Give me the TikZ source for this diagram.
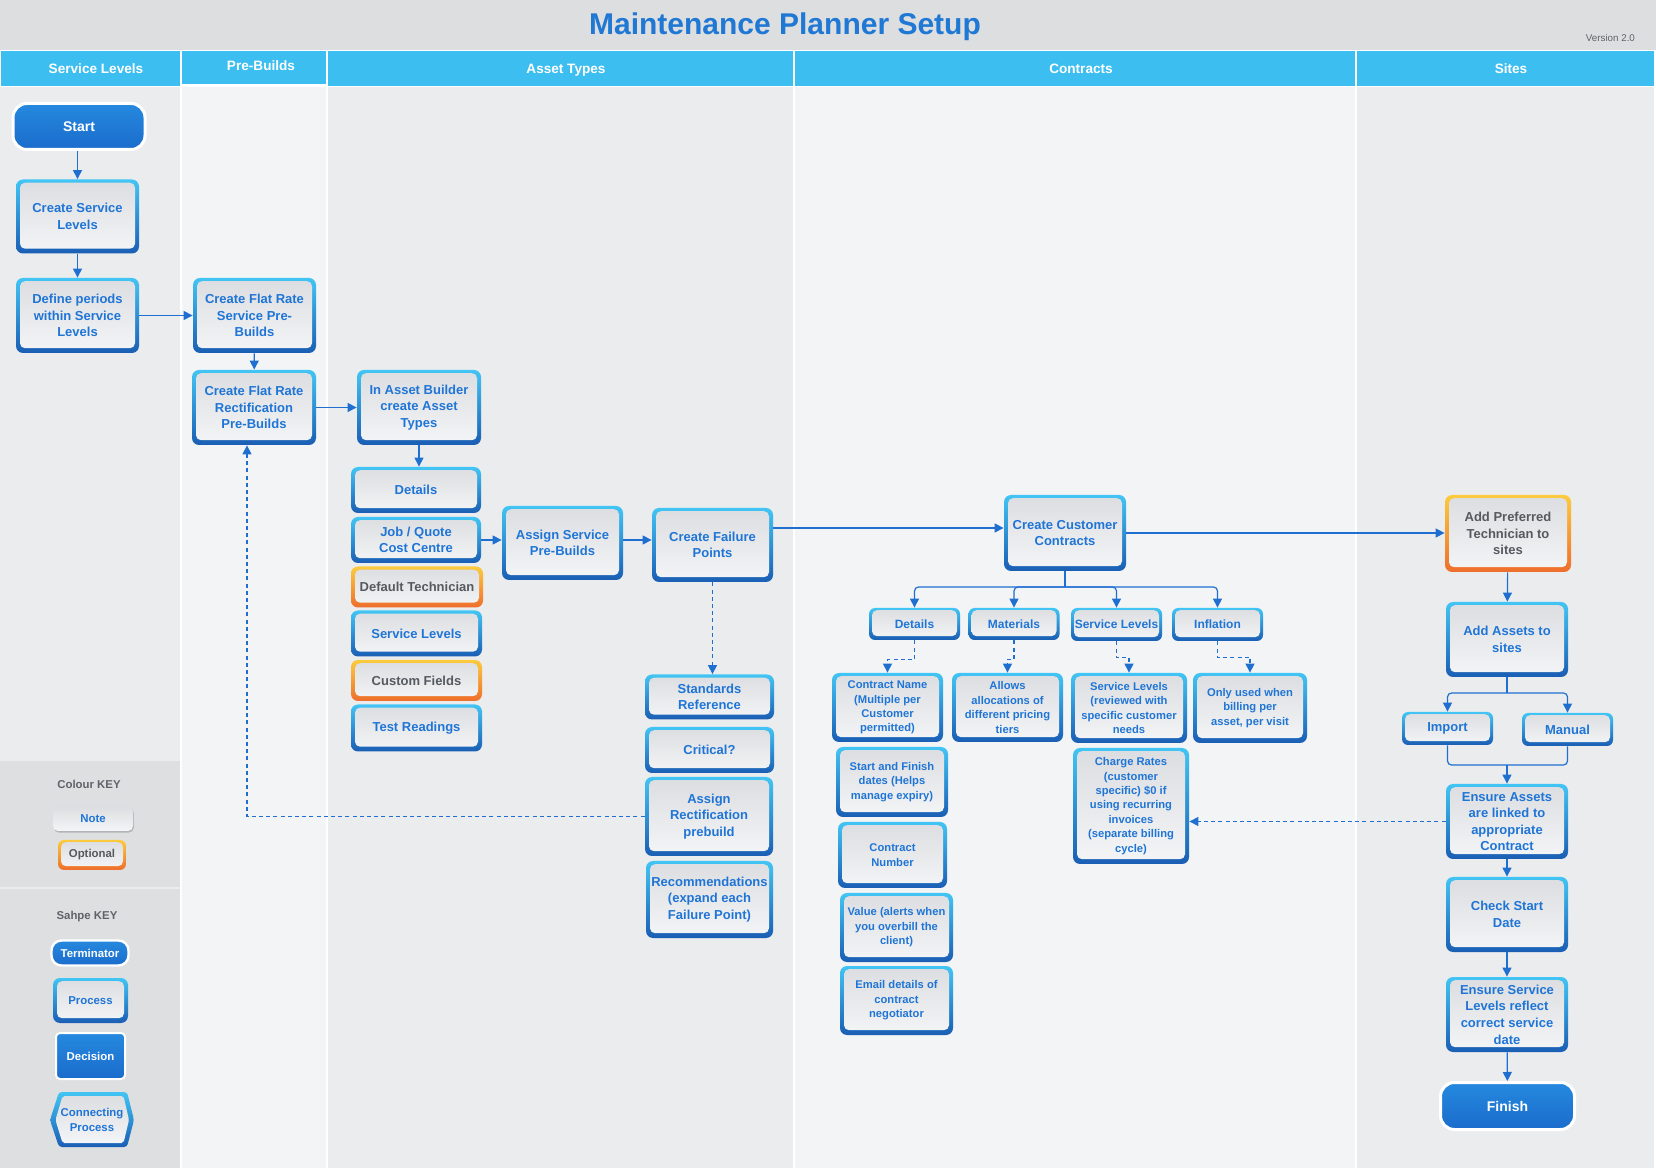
\documentclass[tikz,border=0pt]{standalone}
\usepackage{fontspec}
\setmainfont{Liberation Sans}
\usetikzlibrary{arrows.meta,shadows,calc}
\definecolor{titlegray}{HTML}{DDDEE0}
\definecolor{hdr}{HTML}{3CBEF0}
\definecolor{laneA}{HTML}{EBECEE}
\definecolor{laneB}{HTML}{F3F4F6}
\definecolor{keyg}{HTML}{DEDFE1}
\definecolor{bcy}{HTML}{42C5F4}
\definecolor{bdk}{HTML}{1A5EB4}
\definecolor{gin1}{HTML}{DCDDE0}
\definecolor{gin2}{HTML}{F4F5F7}
\definecolor{tblue}{HTML}{1F75D6}
\definecolor{lc}{HTML}{1F6FD1}
\definecolor{oyl}{HTML}{FCCB3E}
\definecolor{oor}{HTML}{EE6E2C}
\definecolor{tgry}{HTML}{555A60}
\definecolor{tm1}{HTML}{2589DE}
\definecolor{tm2}{HTML}{1B6CCC}
\definecolor{ttl}{HTML}{1F78D4}
\definecolor{kgray}{HTML}{5F6368}
\tikzset{
  sz/.style 2 args={minimum width=#1*0.5pt, minimum height=#2*0.5pt},
  fr/.style={path picture={\shade[top color=gin1,bottom color=gin2,rounded corners=2.5pt]
      ([xshift=#1,yshift=#1+0.4pt]path picture bounding box.south west) rectangle
      ([xshift=-#1,yshift=-#1+0.4pt]path picture bounding box.north east);}},
  bx/.style={rectangle, rounded corners=3.5pt, top color=bcy, bottom color=bdk, inner sep=0pt,
    align=center, text=tblue, font=\bfseries\fontsize{6.5}{8.3}\selectfont, fr=2pt},
  bxs/.style={bx, rounded corners=3pt, fr=1.5pt, font=\bfseries\fontsize{6}{7.5}\selectfont},
  nt/.style={bx, font=\bfseries\fontsize{5.6}{7.2}\selectfont},
  opt/.style={top color=oyl, bottom color=oor, text=tgry},
  term/.style={rectangle, rounded corners=7pt, top color=tm1, bottom color=tm2, draw=white,
    line width=1.5pt, text=white, inner sep=0pt, font=\bfseries\fontsize{7}{8}\selectfont},
  hdrbar/.style={rectangle, fill=hdr, inner sep=0pt},
  hdrtxt/.style={text=white, inner sep=0pt, text height=5pt, text depth=1.4pt, font=\bfseries\fontsize{6.8}{8}\selectfont},
  keyfont/.style={font=\bfseries\fontsize{5.7}{7.5}\selectfont},
  cn/.style={draw=lc, line width=0.6pt},
  arr/.style={cn, -{Triangle[length=4.5pt,width=4.5pt]}},
  darr/.style={arr, dash pattern=on 2pt off 1.6pt},
}
\begin{document}
\begin{tikzpicture}[x=0.5pt,y=-0.5pt]
\useasboundingbox (0,0) rectangle (1656,1170);
% background and lanes
\fill[white] (0,0) rectangle (1656,1170);
\fill[titlegray] (0,0) rectangle (1656,50);
\fill[laneA] (0,87) rectangle (180,1168);
\fill[laneB] (182,87) rectangle (326,1168);
\fill[laneA] (328,87) rectangle (793,1168);
\fill[laneB] (795,87) rectangle (1355,1168);
\fill[laneA] (1357,87) rectangle (1654,1168);
\fill[keyg] (0,761) rectangle (180,887);
\fill[keyg] (0,889) rectangle (180,1168);

\node[text=ttl, font=\bfseries\fontsize{15}{18}\selectfont] (title) at (785,27) {Maintenance Planner Setup};
\node[anchor=east, text=kgray, font=\fontsize{4.9}{6}\selectfont] (ver) at (1642,38) {Version 2.0};

\node[hdrbar, sz={179}{35}] (h1) at (90.5,68.5) {};
\node[hdrbar, sz={144}{33}] (h2) at (254,67.5) {};
\node[hdrbar, sz={465}{35}] (h3) at (560.5,68.5) {};
\node[hdrbar, sz={560}{35}] (h4) at (1075,68.5) {};
\node[hdrbar, sz={297}{35}] (h5) at (1505.5,68.5) {};
\node[hdrtxt] (t1) at (96,69.5) {Service Levels};
\node[hdrtxt] (t2) at (261,67) {Pre-Builds};
\node[hdrtxt] (t3) at (566,69.5) {Asset Types};
\node[hdrtxt] (t4) at (1081,69.5) {Contracts};
\node[hdrtxt] (t5) at (1511,70) {Sites};

% lane 1
\node[term, sz={132}{46}] (start) at (79,126.5) {Start};
\node[bx, sz={123}{74}] (csl) at (77.5,216.5) {Create Service\\Levels};
\node[bx, sz={123}{75}] (dp) at (77.5,315.5) {Define periods\\within Service\\Levels};
% lane 2
\node[bx, sz={123}{75}] (frs) at (254.5,315.5) {Create Flat Rate\\Service Pre-\\Builds};
\node[bx, sz={124}{75}] (frr) at (254,407.5) {Create Flat Rate\\Rectification\\Pre-Builds};
% lane 3
\node[bx, sz={124}{75}] (iab) at (419,407.5) {In Asset Builder\\create Asset\\Types};
\node[bx, sz={130}{46}] (det) at (416,490) {Details};
\node[bx, sz={130}{46}] (jq) at (416,540) {Job / Quote\\Cost Centre};
\node[bx, opt, sz={132}{41}] (dt) at (417,587) {Default Technician};
\node[bx, sz={131}{46}] (sl) at (416.5,633.5) {Service Levels};
\node[bx, opt, sz={131}{41}] (cf) at (416.5,680.5) {Custom Fields};
\node[bx, sz={131}{47}] (tr) at (416.5,728) {Test Readings};
\node[bx, sz={121}{74}] (asp) at (562.5,543) {Assign Service\\Pre-Builds};
\node[bx, sz={121}{74}] (cfp) at (712.5,545) {Create Failure\\Points};
\node[bx, sz={129}{45}] (std) at (709.5,697) {Standards\\Reference};
\node[bx, sz={129}{46}] (crit) at (709.5,750) {Critical?};
\node[bx, sz={128}{79}] (arp) at (709,816.5) {Assign\\Rectification\\prebuild};
\node[bx, sz={127}{77}] (rec) at (709.5,899.5) {Recommendations\\(expand each\\Failure Point)};
% lane 4
\node[bx, sz={122}{76}] (ccc) at (1065,533) {Create Customer\\Contracts};
\node[bxs, sz={91}{32}] (cdet) at (914.5,624) {Details};
\node[bxs, sz={91}{32}] (cmat) at (1014,624) {Materials};
\node[bxs, sz={91}{33}] (csl2) at (1116.5,624.5) {Service Levels};
\node[bxs, sz={91}{33}] (cinf) at (1217.5,624.5) {Inflation};
\node[nt, sz={111}{69}] (n1) at (887.5,707.5) {Contract Name\\(Multiple per\\Customer\\permitted)};
\node[nt, sz={111}{69}] (n2) at (1007.5,707.5) {Allows\\allocations of\\different pricing\\tiers};
\node[nt, sz={116}{70}] (n3) at (1129,708) {Service Levels\\(reviewed with\\specific customer\\needs};
\node[nt, sz={114}{70}] (n4) at (1250,708) {Only used when\\billing per\\asset, per visit};
\node[nt, sz={116}{116}] (n5) at (1131,806) {Charge Rates\\(customer\\specific) \$0 if\\using recurring\\invoices\\(separate billing\\cycle)};
\node[nt, sz={112}{70}] (n6) at (892,782) {Start and Finish\\dates (Helps\\manage expiry)};
\node[nt, sz={109}{66}] (n7) at (892.5,855) {Contract\\Number};
\node[nt, sz={113}{69}] (n8) at (896.5,927.5) {Value (alerts when\\you overbill the\\client)};
\node[nt, sz={113}{69}] (n9) at (896.5,1000.5) {Email details of\\contract\\negotiator};
% lane 5
\node[bx, opt, sz={126}{77}] (apt) at (1508,533.5) {Add Preferred\\Technician to\\sites};
\node[bx, sz={122}{75}] (aas) at (1507,639.5) {Add Assets to\\sites};
\node[bxs, sz={91}{33}, font=\bfseries\fontsize{6.5}{8}\selectfont] (imp) at (1447.5,728.5) {Import};
\node[bxs, sz={91}{33}, font=\bfseries\fontsize{6.5}{8}\selectfont] (man) at (1567.5,729.5) {Manual};
\node[bx, sz={122}{75}] (ea) at (1507,821.5) {Ensure Assets\\are linked to\\appropriate\\Contract};
\node[bx, sz={122}{75}] (csd) at (1507,914.5) {Check Start\\Date};
\node[bx, sz={122}{75}] (esl) at (1507,1014.5) {Ensure Service\\Levels reflect\\correct service\\date};
\node[term, sz={134}{47}] (fin) at (1507.5,1106) {Finish};

% key
\node[keyfont, text=kgray] (ck) at (89,784) {Colour KEY};
\node[rectangle, rounded corners=2.5pt, top color=gin1, bottom color=gin2, keyfont, text=tblue, sz={80}{25},
  drop shadow={shadow xshift=0.4pt, shadow yshift=-0.8pt, opacity=0.35, fill=black!60}] (knote) at (93,818.5) {Note};
\node[bxs, opt, keyfont, sz={68}{30}] (kopt) at (92,855) {Optional};
\node[keyfont, text=kgray] (sk) at (87,917) {Sahpe KEY};
\node[term, line width=1.2pt, rounded corners=5pt, keyfont, sz={77}{25}] (kterm) at (90,953) {Terminator};
\node[bx, keyfont, sz={75}{45}] (kproc) at (90.5,1000.5) {Process};
\node[rectangle, rounded corners=2pt, top color=tm1, bottom color=tm2, draw=white, line width=1pt,
  text=white, keyfont, sz={69}{46}] (kdec) at (90.5,1056) {Decision};
\shade[top color=bcy, bottom color=bdk, rounded corners=1.5pt]
  (50,1120) -- (59,1092) -- (127,1092) -- (134,1120) -- (127,1147) -- (59,1147) -- cycle;
\shade[top color=gin1, bottom color=gin2, rounded corners=1pt]
  (55.5,1120) -- (62.5,1096) -- (123.5,1096) -- (129,1120) -- (123.5,1143) -- (62.5,1143) -- cycle;
\node[keyfont, text=tblue, align=center] (kconn) at (92,1119.5) {Connecting\\Process};

% connectors
\draw[arr] (csl.north |- start.south) -- (csl.north);
\draw[arr] (csl) -- (dp);
\draw[arr] (dp.east) -- (frs.west);
\draw[arr] (frs) -- (frr);
\draw[arr] (frr.east) -- (iab.west);
\draw[arr] (iab.south) -- (iab.south |- det.north);
\draw[arr] (jq.east) -- (jq.east -| asp.west);
\draw[arr] (asp.east |- jq.east) -- (cfp.west |- jq.east);
\coordinate (ccin) at ($(ccc.west)+(0,-5)$);
\draw[arr] (cfp.east |- ccin) -- (ccin);
\draw[arr] (ccc.east) -- (ccc.east -| apt.west);
\draw[darr] (cfp.south) -- (cfp.south |- std.north);
\draw[darr] (arp.west) -| ([xshift=-3.5pt]frr.south);

\coordinate (cj) at (1065,587);
\draw[cn] (ccc.south) -- (cj);
\draw[arr, rounded corners=2pt] (cj) -| (cdet.north);
\draw[arr, rounded corners=2pt] (cj) -| (cmat.north);
\draw[arr, rounded corners=2pt] (cj) -| (csl2.north);
\draw[arr, rounded corners=2pt] (cj) -| (cinf.north);
\draw[darr] (cdet.south) -- ++(0,19) -| (n1.north);
\draw[darr] (cmat.south) -- ++(0,19) -| (n2.north);
\draw[darr] (csl2.south) -- ++(0,16) -| (n3.north);
\draw[darr] (cinf.south) -- ++(0,16) -| (n4.north);

\draw[arr] (apt) -- (aas);
\coordinate (sj) at (1507,693);
\draw[cn] (aas.south) -- (sj);
\draw[arr, rounded corners=2pt] (sj) -| (imp.north);
\draw[arr, rounded corners=2pt] (sj) -| (man.north);
\coordinate (mj) at (1507,765);
\draw[cn, rounded corners=2pt] (imp.south) |- (mj) -| (man.south);
\draw[arr] (mj) -- (ea.north);
\draw[arr] (ea) -- (csd);
\draw[arr] (csd) -- (esl);
\draw[arr] (esl) -- (fin);
\draw[darr] (ea.west) -- (ea.west -| n5.east);
\end{tikzpicture}
\end{document}
